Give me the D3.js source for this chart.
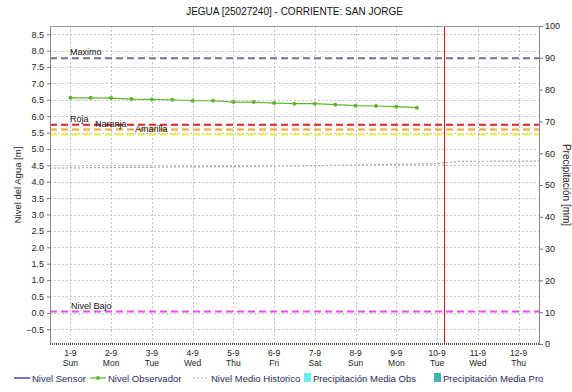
<!DOCTYPE html>
<html>
<head>
<meta charset="utf-8">
<script src="https://cdn.jsdelivr.net/npm/d3@7"></script>
<style>
  body { margin:0; background:#fff; }
  svg { display:block; font-family:"Liberation Sans", Arial, sans-serif; }
</style>
</head>
<body>
<div id="chart-area"></div>
<script>
const W = 572, H = 392;
const margin = {top:26, right:33, bottom:48, left:50};
const width = W - margin.left - margin.right;
const height = H - margin.top - margin.bottom;

// ---- data ----
const title = "JEGUA [25027240] - CORRIENTE: SAN JORGE";
const dayLabels = ["1-9","2-9","3-9","4-9","5-9","6-9","7-9","8-9","9-9","10-9","11-9","12-9"];
const weekLabels = ["Sun","Mon","Tue","Wed","Thu","Fri","Sat","Sun","Mon","Tue","Wed","Thu"];
const levelTicks = [-0.5,0,0.5,1,1.5,2,2.5,3,3.5,4,4.5,5,5.5,6,6.5,7,7.5,8,8.5];
const rainTicks = [0,10,20,30,40,50,60,70,80,90,100];

// observer readings every 12h starting 1-9 00:00
const obsValues = [6.56,6.56,6.55,6.52,6.51,6.50,6.47,6.47,6.43,6.43,6.40,6.38,6.38,6.35,6.32,6.31,6.29,6.26];
// historic mean every 12h starting 31-8 12:00
const histValues = [4.41,4.42,4.43,4.43,4.44,4.44,4.45,4.45,4.46,4.46,4.47,4.48,4.48,4.49,4.50,4.51,4.52,4.53,4.54,4.55,4.62,4.62,4.63,4.63,4.63];

const thresholdNames = ["Maximo","Roja","Naranja","Amarilla","Nivel Bajo"];
const thresholdValues = [7.77,5.74,5.59,5.44,0.04];
const thresholdColors = ["#6f7393","#e02424","#f2a23e","#eeee3c","#ea4fea"];
const thresholdLabelX = [70,70,95,135,71];

const legendNames = ["Nivel Sensor","Nivel Observador","Nivel Medio Historico","Precipitación Media Obs","Precipitación Media Pro"];
const legendX = [14,90,193,304,434];

const nowTime = new Date(2013,8,10,4);

// ---- scales ----
const xScale = d3.scaleTime()
  .domain([new Date(2013,7,31,12), new Date(2013,8,12,12)])
  .range([0,width]);
const yScale = d3.scaleLinear().domain([-0.95,8.75]).range([height,0]);
const rScale = d3.scaleLinear().domain([0,100]).range([height,0]);

const snap = v => Math.round(v) + 0.5;

const tickDates = dayLabels.map((d,i) => new Date(2013,8,i+1));
const obsData = obsValues.map((v,i) => ({t:new Date(2013,8,1,12*i), v:v}));
const histData = histValues.map((v,i) => ({t:new Date(2013,7,31,12+12*i), v:v}));

const svg = d3.select("#chart-area").append("svg")
  .attr("width", W).attr("height", H);

svg.append("text")
  .attr("x", margin.left + width/2).attr("y", 15)
  .attr("text-anchor","middle").attr("font-size",10).attr("fill","#111")
  .text(title);

const g = svg.append("g")
  .attr("transform", `translate(${margin.left},${margin.top})`);

// grid
g.selectAll("line.hgrid").data(levelTicks).enter().append("line")
  .attr("class","hgrid")
  .attr("x1",0).attr("x2",width)
  .attr("y1",d => snap(yScale(d))).attr("y2",d => snap(yScale(d)))
  .attr("stroke","#c4c4c4").attr("stroke-dasharray","2,2")
  .attr("shape-rendering","crispEdges");
g.selectAll("line.vgrid").data(tickDates).enter().append("line")
  .attr("class","vgrid")
  .attr("x1",d => snap(xScale(d))).attr("x2",d => snap(xScale(d)))
  .attr("y1",0).attr("y2",height)
  .attr("stroke","#c4c4c4").attr("stroke-dasharray","2,2")
  .attr("shape-rendering","crispEdges");

// historic mean
g.append("path").datum(histData)
  .attr("fill","none").attr("stroke","#a8a8a8").attr("stroke-width",1.2)
  .attr("stroke-dasharray","2,2")
  .attr("d", d3.line().x(d => xScale(d.t)).y(d => yScale(d.v)));

// thresholds
g.selectAll("line.thr").data(thresholdValues).enter().append("line")
  .attr("class","thr")
  .attr("x1",0).attr("x2",width)
  .attr("y1",d => yScale(d)).attr("y2",d => yScale(d))
  .attr("stroke",(d,i) => thresholdColors[i]).attr("stroke-width",2)
  .attr("stroke-dasharray","7,4");

// observer line
g.append("path").datum(obsData)
  .attr("fill","none").attr("stroke","#5cb82e").attr("stroke-width",1.2)
  .attr("d", d3.line().x(d => xScale(d.t)).y(d => yScale(d.v)));
g.selectAll("circle.obs").data(obsData).enter().append("circle")
  .attr("class","obs")
  .attr("cx",d => xScale(d.t)).attr("cy",d => yScale(d.v)).attr("r",2)
  .attr("fill","#5cb82e");

// threshold labels
g.selectAll("text.thr").data(thresholdNames).enter().append("text")
  .attr("class","thr")
  .attr("x",(d,i) => thresholdLabelX[i] - margin.left)
  .attr("y",(d,i) => yScale(thresholdValues[i]) - 3)
  .attr("font-size",9).attr("fill","#111")
  .text(d => d);

// now line
g.append("line")
  .attr("x1",snap(xScale(nowTime))).attr("x2",snap(xScale(nowTime)))
  .attr("y1",0).attr("y2",height)
  .attr("stroke","#d01c1c").attr("stroke-width",1)
  .attr("shape-rendering","crispEdges");

// frame
g.append("line").attr("x1",0).attr("x2",width).attr("y1",0.5).attr("y2",0.5)
  .attr("stroke","#9a9a9a");
g.append("line").attr("x1",0.5).attr("x2",0.5).attr("y1",0).attr("y2",height)
  .attr("stroke","#8a8a8a");
g.append("line").attr("x1",width+0.5).attr("x2",width+0.5).attr("y1",0).attr("y2",height)
  .attr("stroke","#8a8a8a");
g.append("line").attr("x1",0).attr("x2",width).attr("y1",height).attr("y2",height)
  .attr("stroke","#222").attr("stroke-width",1.5).attr("stroke-dasharray","1,1");

// left axis
const yAxis = d3.axisLeft(yScale).tickValues(levelTicks)
  .tickFormat(d3.format(".1f")).tickSize(3).tickPadding(3);
const ya = g.append("g").call(yAxis);
ya.select(".domain").remove();
ya.selectAll("line").attr("stroke","#777");
ya.selectAll("text").attr("font-size",9).attr("fill","#222")
  .attr("font-family","Liberation Sans, Arial, sans-serif");

// right axis
const rAxis = d3.axisRight(rScale).tickValues(rainTicks).tickSize(4).tickPadding(2);
const ra = g.append("g").attr("transform",`translate(${width},0)`).call(rAxis);
ra.select(".domain").remove();
ra.selectAll("line").attr("stroke","#777");
ra.selectAll("text").attr("font-size",9).attr("fill","#222")
  .attr("font-family","Liberation Sans, Arial, sans-serif");

// x labels
const xl = g.selectAll("text.xl").data(tickDates).enter().append("text")
  .attr("class","xl")
  .attr("text-anchor","middle").attr("font-size",8.5).attr("fill","#222");
xl.append("tspan").attr("x",d => xScale(d)).attr("y",height + 12)
  .text((d,i) => dayLabels[i]);
xl.append("tspan").attr("x",d => xScale(d)).attr("y",height + 22)
  .text((d,i) => weekLabels[i]);

// axis titles
svg.append("text")
  .attr("transform",`translate(21,${margin.top + height/2}) rotate(-90)`)
  .attr("text-anchor","middle").attr("font-size",9.5).attr("fill","#222")
  .text("Nivel del Agua [m]");
svg.append("text")
  .attr("transform",`translate(563,${margin.top + height/2}) rotate(90)`)
  .attr("text-anchor","middle").attr("font-size",10).attr("fill","#222")
  .text("Precipitación [mm]");

// legend
const legend = svg.append("g").attr("transform","translate(0,382)");
legendNames.forEach(function(name,i){
  let lx = legendX[i];
  if (i < 3) {
    const ln = legend.append("line").attr("x1",lx).attr("x2",lx+16).attr("y1",-4).attr("y2",-4);
    if (i == 0) ln.attr("stroke","#2a2aa8").attr("stroke-width",1.3);
    if (i == 1) {
      ln.attr("stroke","#5cb82e").attr("stroke-width",1.3);
      legend.append("circle").attr("cx",lx+8).attr("cy",-4).attr("r",2).attr("fill","#5cb82e");
    }
    if (i == 2) ln.attr("stroke","#b4b4b4").attr("stroke-width",1.2).attr("stroke-dasharray","2,2");
    lx += 18;
  } else {
    legend.append("rect").attr("x",lx).attr("y",-9).attr("width",7).attr("height",9)
      .attr("fill", i == 3 ? "#66eef2" : "#3cb6ae");
    lx += 9;
  }
  legend.append("text").attr("x",lx).attr("y",0)
    .attr("font-size",9.5).attr("fill","#2a2a5a").text(name);
});
</script>
</body>
</html>
